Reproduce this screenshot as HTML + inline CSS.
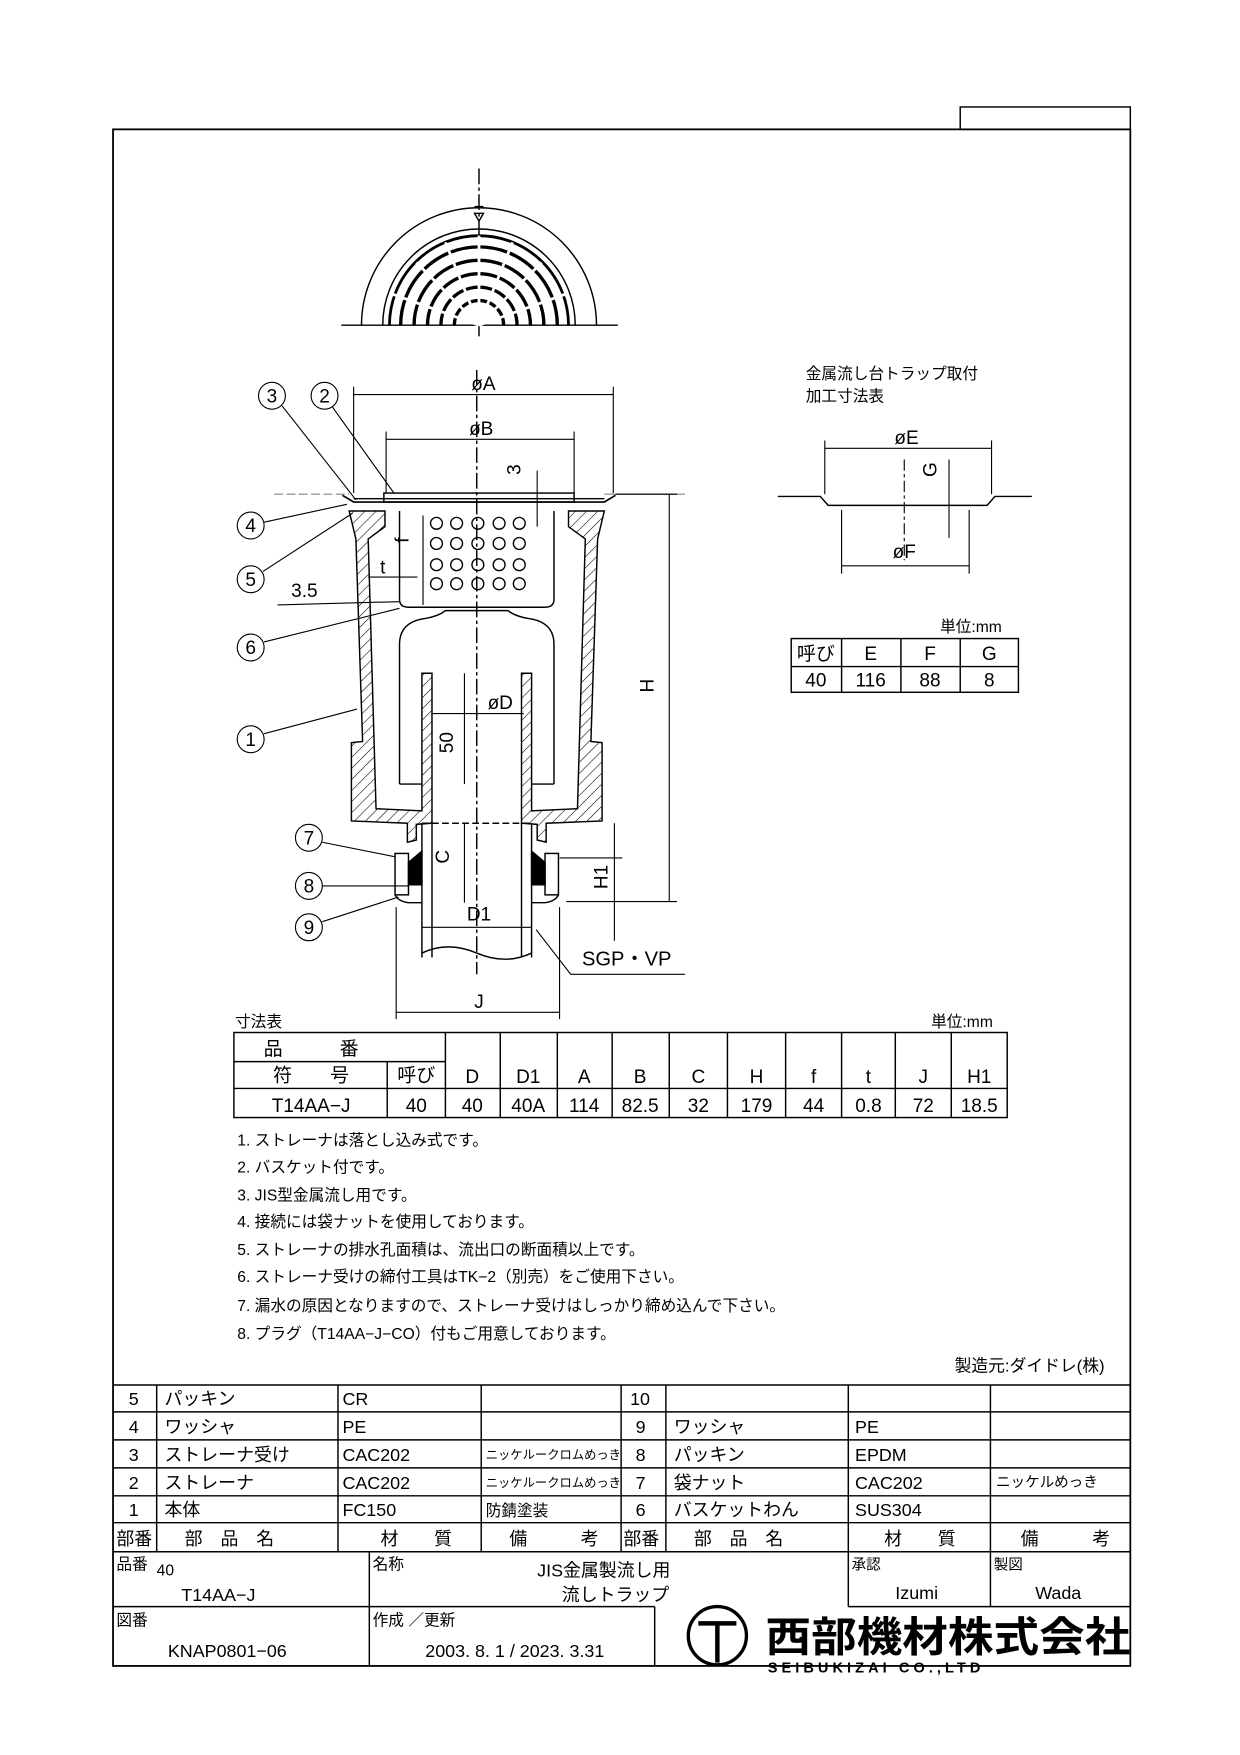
<!DOCTYPE html>
<html><head><meta charset="utf-8"><style>
html,body{margin:0;padding:0;background:#fff}
svg{display:block}
text{font-family:"Liberation Sans","Noto Sans CJK JP",sans-serif;fill:#000}
</style></head><body>
<svg width="1240" height="1755" viewBox="0 0 1108 1567" xmlns="http://www.w3.org/2000/svg">
<defs>
<pattern id="h" width="7" height="7" patternUnits="userSpaceOnUse" patternTransform="rotate(45)">
<rect width="7" height="7" fill="#fff"/><line x1="0" y1="0" x2="0" y2="7" stroke="#000" stroke-width="1"/></pattern>
</defs>
<g fill="none" stroke="#000" stroke-width="1.3">
<rect x="858" y="95" width="152" height="20"/>
<rect x="101" y="115" width="909" height="1373" stroke-width="1.6"/>

<line x1="428" y1="150" x2="428" y2="300" stroke-dasharray="14,3,3,3"/>
<line x1="305" y1="290" x2="552" y2="290"/>
<path d="M323,290 A105,105 0 0 1 533,290"/>
<path d="M342,290 A86,86 0 0 1 514,290"/>
<path d="M348,290 A80,80 0 0 1 508,290" stroke-width="2.5"/>
<g stroke-width="3">
<path d="M358,290 A70,70 0 0 1 498,290"/>
<path d="M370,290 A58,58 0 0 1 486,290"/>
<path d="M382,290 A46,46 0 0 1 474,290"/>
<path d="M394,290 A34,34 0 0 1 462,290"/>
<path d="M406,290 A22,22 0 0 1 450,290"/>
</g>
<g stroke="#fff" stroke-width="2.5">
<line x1="428" y1="290" x2="428" y2="210"/>
<line x1="428" y1="290" x2="372" y2="234"/><line x1="428" y1="290" x2="484" y2="234"/>
<line x1="428" y1="290" x2="350" y2="262"/><line x1="428" y1="290" x2="506" y2="262"/>
<line x1="428" y1="290" x2="398" y2="216"/><line x1="428" y1="290" x2="458" y2="216"/>
</g>
<path d="M424,190 L428,197 L432,190 Z M424,184 L432,184"/>

<line x1="245" y1="441" x2="312" y2="441" stroke="#999" stroke-dasharray="8,3"/>
<line x1="540" y1="441" x2="612" y2="441" stroke="#999"/>
<path d="M306,442 L316,448 L540,448 L550,442" stroke-width="1.5"/>
<rect x="343" y="440" width="170" height="8"/>
<line x1="316" y1="445" x2="540" y2="445"/>
<path d="M318,481 L312,456 L344,456 L344,470 L329,481 L336,722 L377,724 L377,601 L386,601 L386,735 L372,736 L372,750 L364,752 L364,735 L314,733 L314,663 L324,662 Z" fill="url(#h)"/>
<path d="M534,481 L540,456 L508,456 L508,470 L523,481 L516,722 L475,724 L475,601 L466,601 L466,735 L480,736 L480,750 L488,752 L488,735 L538,733 L538,663 L528,662 Z" fill="url(#h)"/>
<path d="M357,700 L357,575 Q357,555 380,552 Q392,550 398,545 L454,545 Q460,550 472,552 Q495,555 495,575 L495,700"/>
<line x1="357" y1="700" x2="377" y2="700"/><line x1="475" y1="700" x2="495" y2="700"/>
<path d="M357,456 L357,535 Q357,542 365,542 L487,542 Q495,542 495,535 L495,456"/>
<g stroke-width="1.2">
<circle cx="390" cy="467" r="5.3"/><circle cx="408" cy="467" r="5.3"/><circle cx="427" cy="467" r="5.3"/><circle cx="446" cy="467" r="5.3"/><circle cx="464" cy="467" r="5.3"/>
<circle cx="390" cy="485" r="5.3"/><circle cx="408" cy="485" r="5.3"/><circle cx="427" cy="485" r="5.3"/><circle cx="446" cy="485" r="5.3"/><circle cx="464" cy="485" r="5.3"/>
<circle cx="390" cy="504" r="5.3"/><circle cx="408" cy="504" r="5.3"/><circle cx="427" cy="504" r="5.3"/><circle cx="446" cy="504" r="5.3"/><circle cx="464" cy="504" r="5.3"/>
<circle cx="390" cy="521" r="5.3"/><circle cx="408" cy="521" r="5.3"/><circle cx="427" cy="521" r="5.3"/><circle cx="446" cy="521" r="5.3"/><circle cx="464" cy="521" r="5.3"/>
</g>
<rect x="353" y="762" width="12" height="37"/>
<rect x="487" y="762" width="12" height="37"/>
<path d="M365,770 L377,760 L377,790 L365,790 Z M487,770 L475,760 L475,790 L487,790 Z" fill="#000"/>
<path d="M353,799 Q356,805 365,806 L377,806 M499,799 Q496,805 487,806 L475,806"/>
<line x1="377" y1="735" x2="377" y2="855"/><line x1="475" y1="735" x2="475" y2="855"/>
<line x1="386" y1="735" x2="386" y2="855"/><line x1="466" y1="735" x2="466" y2="855"/>
<path d="M377,851 Q400,840 426,851 Q452,862 475,851"/>
<line x1="377" y1="735" x2="475" y2="735" stroke-dasharray="6,3"/>
<line x1="426" y1="330" x2="426" y2="870" stroke-dasharray="14,3,3,3"/>

<line x1="316" y1="345" x2="316" y2="440" stroke-width="1"/><line x1="548" y1="345" x2="548" y2="440" stroke-width="1"/>
<line x1="316" y1="352" x2="548" y2="352" stroke-width="1"/>
<line x1="345" y1="385" x2="345" y2="440" stroke-width="1"/><line x1="513" y1="385" x2="513" y2="440" stroke-width="1"/>
<line x1="345" y1="392" x2="513" y2="392" stroke-width="1"/>
<line x1="550" y1="441" x2="605" y2="441" stroke-width="1"/>
<line x1="506" y1="805" x2="605" y2="805" stroke-width="1"/>
<line x1="598" y1="441" x2="598" y2="805" stroke-width="1"/>
<line x1="500" y1="766" x2="556" y2="766" stroke-width="1"/>
<line x1="549" y1="735" x2="549" y2="840" stroke-width="1"/>
<line x1="354" y1="810" x2="354" y2="910" stroke-width="1"/><line x1="500" y1="810" x2="500" y2="910" stroke-width="1"/>
<line x1="354" y1="904" x2="500" y2="904" stroke-width="1"/>
<line x1="377" y1="828" x2="475" y2="828" stroke-width="1"/>
<line x1="386" y1="637" x2="468" y2="637" stroke-width="1"/>
<line x1="415" y1="601" x2="415" y2="700" stroke-width="1"/>
<line x1="415" y1="735" x2="415" y2="806" stroke-width="1"/>
<line x1="378" y1="460" x2="378" y2="540" stroke-width="1"/>
<line x1="329" y1="515" x2="373" y2="515" stroke-width="1"/>
<line x1="248" y1="540" x2="357" y2="537" stroke-width="1"/>
<line x1="480" y1="420" x2="480" y2="470" stroke-width="1"/>
<path d="M479,830 L510,870 L612,870" stroke-width="1"/>
<g stroke-width="1">
<circle cx="243" cy="353" r="12"/><circle cx="290" cy="353" r="12"/>
<circle cx="224" cy="469" r="12"/><circle cx="224" cy="517" r="12"/><circle cx="224" cy="578" r="12"/><circle cx="224" cy="660" r="12"/>
<circle cx="276" cy="748" r="12"/><circle cx="276" cy="791" r="12"/><circle cx="276" cy="828" r="12"/>
<line x1="252" y1="362" x2="318" y2="446"/><line x1="297" y1="363" x2="352" y2="440"/>
<line x1="236" y1="466" x2="310" y2="450"/><line x1="235" y1="510" x2="315" y2="458"/>
<line x1="236" y1="573" x2="357" y2="543"/><line x1="236" y1="655" x2="319" y2="633"/>
<line x1="288" y1="752" x2="353" y2="765"/><line x1="288" y1="791" x2="365" y2="791"/><line x1="288" y1="823" x2="356" y2="801"/>
</g>

<path d="M695,443 L733,443 L740,451 L882,451 L889,443 L922,443"/>
<line x1="737" y1="393" x2="737" y2="441" stroke-width="1"/><line x1="886" y1="393" x2="886" y2="441" stroke-width="1"/>
<line x1="737" y1="400" x2="886" y2="400" stroke-width="1"/>
<line x1="752" y1="455" x2="752" y2="512" stroke-width="1"/><line x1="866" y1="455" x2="866" y2="512" stroke-width="1"/>
<line x1="752" y1="505" x2="866" y2="505" stroke-width="1"/>
<line x1="808" y1="410" x2="808" y2="500" stroke-dasharray="10,3,3,3" stroke-width="1"/>
<line x1="848" y1="410" x2="848" y2="480" stroke-width="1"/>
<rect x="707" y="570" width="203" height="48"/>
<line x1="707" y1="595" x2="910" y2="595"/>
<line x1="752" y1="570" x2="752" y2="618"/><line x1="805" y1="570" x2="805" y2="618"/><line x1="858" y1="570" x2="858" y2="618"/>

<rect x="209" y="922" width="691" height="76"/>
<line x1="209" y1="948" x2="398" y2="948"/><line x1="209" y1="972" x2="900" y2="972"/>
<line x1="346" y1="948" x2="346" y2="998"/>
<line x1="398" y1="922" x2="398" y2="998"/><line x1="447" y1="922" x2="447" y2="998"/><line x1="498" y1="922" x2="498" y2="998"/>
<line x1="547" y1="922" x2="547" y2="998"/><line x1="598" y1="922" x2="598" y2="998"/><line x1="650" y1="922" x2="650" y2="998"/>
<line x1="702" y1="922" x2="702" y2="998"/><line x1="752" y1="922" x2="752" y2="998"/><line x1="800" y1="922" x2="800" y2="998"/>
<line x1="850" y1="922" x2="850" y2="998"/>

<line x1="101" y1="1237" x2="1010" y2="1237"/>
<line x1="101" y1="1261" x2="1010" y2="1261"/><line x1="101" y1="1286" x2="1010" y2="1286"/>
<line x1="101" y1="1311" x2="1010" y2="1311"/><line x1="101" y1="1336" x2="1010" y2="1336"/>
<line x1="101" y1="1360" x2="1010" y2="1360"/><line x1="101" y1="1386" x2="1010" y2="1386"/>
<line x1="140" y1="1237" x2="140" y2="1386"/><line x1="302" y1="1237" x2="302" y2="1386"/>
<line x1="430" y1="1237" x2="430" y2="1386"/><line x1="555" y1="1237" x2="555" y2="1386"/>
<line x1="595" y1="1237" x2="595" y2="1386"/><line x1="758" y1="1237" x2="758" y2="1435"/>
<line x1="885" y1="1237" x2="885" y2="1435"/>
<line x1="101" y1="1435" x2="585" y2="1435"/>
<line x1="330" y1="1386" x2="330" y2="1488"/><line x1="585" y1="1435" x2="585" y2="1488"/>
<line x1="758" y1="1435" x2="1010" y2="1435"/>
<circle cx="641" cy="1461" r="26" stroke-width="3"/>
<path d="M624,1450 L658,1450 M641,1450 L641,1485" stroke-width="4"/>
</g>

<g font-size="17" text-anchor="middle">
<text x="432" y="348">øA</text><text x="430" y="388">øB</text>
<text x="810" y="396">øE</text><text x="808" y="498">øF</text>
<text x="447" y="633">øD</text>
<text x="428" y="822">D1</text><text x="428" y="900">J</text>
<text x="243" y="359">3</text><text x="290" y="359">2</text><text x="224" y="475">4</text><text x="224" y="523">5</text>
<text x="224" y="584">6</text><text x="224" y="666">1</text><text x="276" y="754">7</text><text x="276" y="797">8</text><text x="276" y="834">9</text>
<text x="272" y="533">3.5</text><text x="342" y="512">t</text>
<text x="560" y="862" font-size="18">SGP・VP</text>
<text x="592" y="620" transform="rotate(-90 584 620)">H</text>
<text x="548" y="788" transform="rotate(-90 543 788)">H1</text>
<text x="410" y="668" transform="rotate(-90 405 668)">50</text>
<text x="406" y="770" transform="rotate(-90 401 770)">C</text>
<text x="370" y="487" transform="rotate(-90 365 487)">f</text>
<text x="466" y="428" transform="rotate(-90 461 424)">3</text>
<text x="838" y="428" transform="rotate(-90 833 424)">G</text>
</g>
<g font-size="14">
<text x="720" y="338">金属流し台トラップ取付</text><text x="720" y="358">加工寸法表</text>
<text x="840" y="564">単位:mm</text>
<text x="832" y="917">単位:mm</text>
<text x="210" y="917">寸法表</text>
</g>
<g font-size="17" text-anchor="middle">
<text x="729" y="589">呼び</text><text x="778" y="589">E</text><text x="831" y="589">F</text><text x="884" y="589">G</text>
<text x="729" y="613">40</text><text x="778" y="613">116</text><text x="831" y="613">88</text><text x="884" y="613">8</text>
<text x="278" y="942">品　　　番</text><text x="278" y="966">符　　号</text><text x="372" y="966">呼び</text>
<text x="422" y="967">D</text><text x="472" y="967">D1</text><text x="522" y="967">A</text><text x="572" y="967">B</text><text x="624" y="967">C</text>
<text x="676" y="967">H</text><text x="727" y="967">f</text><text x="776" y="967">t</text><text x="825" y="967">J</text><text x="875" y="967">H1</text>
<text x="278" y="993">T14AA−J</text><text x="372" y="993">40</text><text x="422" y="993">40</text><text x="472" y="993">40A</text>
<text x="522" y="993">114</text><text x="572" y="993">82.5</text><text x="624" y="993">32</text><text x="676" y="993">179</text>
<text x="727" y="993">44</text><text x="776" y="993">0.8</text><text x="825" y="993">72</text><text x="875" y="993">18.5</text>
</g>
<g font-size="14">
<text x="212" y="1023">1. ストレーナは落とし込み式です。</text>
<text x="212" y="1047">2. バスケット付です。</text>
<text x="212" y="1072">3. JIS型金属流し用です。</text>
<text x="212" y="1096">4. 接続には袋ナットを使用しております。</text>
<text x="212" y="1121">5. ストレーナの排水孔面積は、流出口の断面積以上です。</text>
<text x="212" y="1145">6. ストレーナ受けの締付工具はTK−2（別売）をご使用下さい。</text>
<text x="212" y="1171">7. 漏水の原因となりますので、ストレーナ受けはしっかり締め込んで下さい。</text>
<text x="212" y="1196">8. プラグ（T14AA−J−CO）付もご用意しております。</text>
<text x="853" y="1225" font-size="15">製造元:ダイドレ(株)</text>
</g>
<g font-size="16">
<text x="115" y="1255">5</text><text x="147" y="1255">パッキン</text><text x="306" y="1255">CR</text><text x="563" y="1255">10</text>
<text x="115" y="1280">4</text><text x="147" y="1280">ワッシャ</text><text x="306" y="1280">PE</text><text x="568" y="1280">9</text><text x="602" y="1280">ワッシャ</text><text x="764" y="1280">PE</text>
<text x="115" y="1305">3</text><text x="147" y="1305">ストレーナ受け</text><text x="306" y="1305">CAC202</text><text x="434" y="1303" font-size="11">ニッケルークロムめっき</text><text x="568" y="1305">8</text><text x="602" y="1305">パッキン</text><text x="764" y="1305">EPDM</text>
<text x="115" y="1330">2</text><text x="147" y="1330">ストレーナ</text><text x="306" y="1330">CAC202</text><text x="434" y="1328" font-size="11">ニッケルークロムめっき</text><text x="568" y="1330">7</text><text x="602" y="1330">袋ナット</text><text x="764" y="1330">CAC202</text><text x="890" y="1328" font-size="13">ニッケルめっき</text>
<text x="115" y="1354">1</text><text x="147" y="1354">本体</text><text x="306" y="1354">FC150</text><text x="434" y="1354" font-size="14">防錆塗装</text><text x="568" y="1354">6</text><text x="602" y="1354">バスケットわん</text><text x="764" y="1354">SUS304</text>
<text x="104" y="1380">部番</text><text x="165" y="1380">部　品　名</text><text x="340" y="1380">材　　質</text><text x="455" y="1380">備　　　考</text>
<text x="557" y="1380">部番</text><text x="620" y="1380">部　品　名</text><text x="790" y="1380">材　　質</text><text x="912" y="1380">備　　　考</text>
<text x="104" y="1402" font-size="14">品番</text><text x="140" y="1407" font-size="14">40</text><text x="162" y="1430">T14AA−J</text>
<text x="333" y="1402" font-size="14">名称</text><text x="480" y="1408">JIS金属製流し用</text><text x="502" y="1430">流しトラップ</text>
<text x="761" y="1402" font-size="13">承認</text><text x="800" y="1428">Izumi</text>
<text x="888" y="1402" font-size="13">製図</text><text x="925" y="1428">Wada</text>
<text x="104" y="1452" font-size="14">図番</text><text x="150" y="1480">KNAP0801−06</text>
<text x="333" y="1452" font-size="14">作成 ／更新</text><text x="380" y="1480">2003. 8. 1 / 2023. 3.31</text>
<text x="684" y="1475" font-size="37" font-weight="bold" textLength="326" lengthAdjust="spacingAndGlyphs" font-family="Noto Serif CJK SC, serif">西部機材株式会社</text>
<text x="686" y="1494" font-size="13" font-weight="bold" textLength="190" font-family="Liberation Serif, serif">SEIBUKIZAI CO.,LTD</text>
</g>
</svg>
</body></html>
